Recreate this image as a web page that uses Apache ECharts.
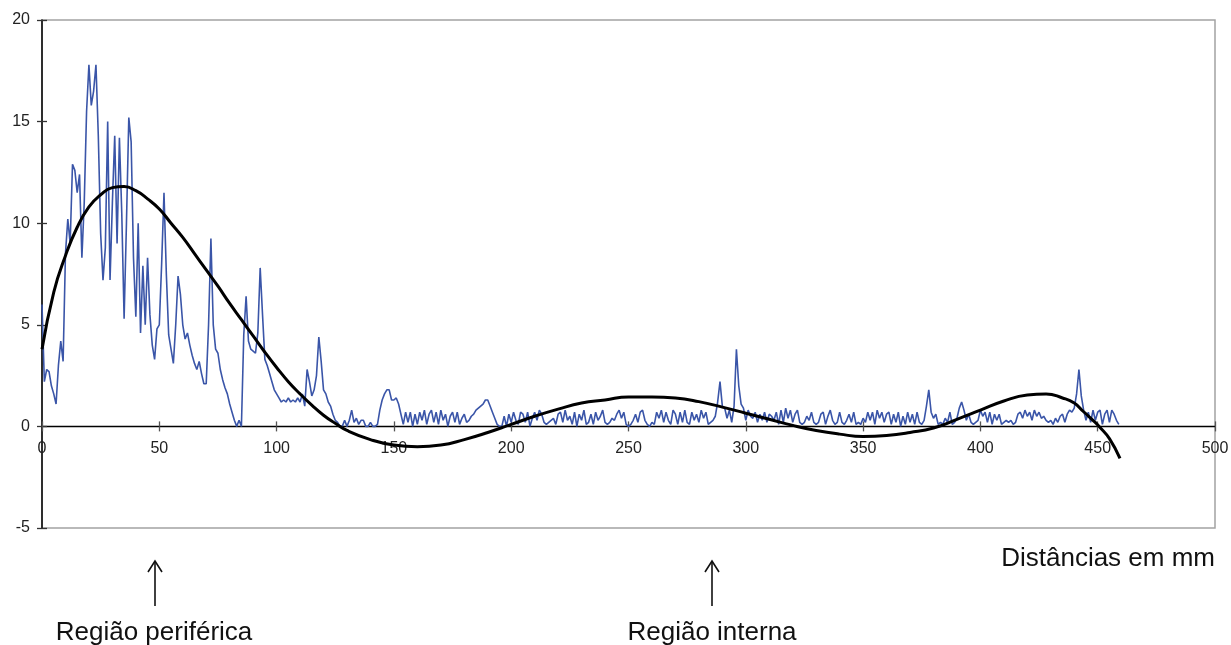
<!DOCTYPE html>
<html>
<head>
<meta charset="utf-8">
<script src="https://cdn.jsdelivr.net/npm/echarts@6/dist/echarts.min.js"></script>
<style>
  html, body { margin: 0; padding: 0; background: #fff; }
  #chart { width: 1231px; height: 645px; }
</style>
</head>
<body>
<div id="chart"></div>
<script>
// sinal medido, um valor por mm (x = 0, 1, 2 ...)
const sinal = [
  6.0, 2.2, 2.8, 2.7, 2.0, 1.6, 1.1, 3.0, 4.2, 3.2,
  8.5, 10.2, 9.0, 12.9, 12.6, 11.5, 12.4, 8.3, 11.0, 15.5,
  17.8, 15.8, 16.5, 17.8, 14.3, 9.5, 7.2, 8.8, 15.0, 7.2,
  11.0, 14.3, 9.0, 14.2, 10.5, 5.3, 10.0, 15.2, 14.0, 8.3,
  5.4, 10.0, 4.6, 7.9, 5.0, 8.3, 5.5, 4.0, 3.3, 4.8,
  5.0, 8.0, 11.5, 7.5, 4.5, 3.8, 3.1, 5.0, 7.4, 6.5,
  5.0, 4.3, 4.6, 4.0, 3.5, 3.1, 2.8, 3.2, 2.6, 2.1,
  2.1, 5.0, 9.25, 5.0, 3.8, 3.6, 2.8, 2.3, 1.9, 1.6,
  1.1, 0.7, 0.3, 0.0, 0.3, 0.0, 4.5, 6.4, 4.2, 3.8,
  3.7, 3.6, 4.6, 7.8, 5.5, 3.3, 3.0, 2.6, 2.2, 1.8,
  1.6, 1.4, 1.2, 1.3, 1.2, 1.4, 1.2, 1.3, 1.2, 1.4,
  1.2, 1.6, 1.0, 2.8, 2.2, 1.5, 1.8, 2.5, 4.4, 3.2,
  1.8, 1.6, 1.2, 1.0, 0.6, 0.3, 0.2, 0.0, 0.0, 0.3,
  0.0, 0.3, 0.8, 0.2, 0.4, 0.1, 0.3, 0.3, 0.0, 0.0,
  0.2, 0.0, 0.0, 0.1, 0.8, 1.3, 1.6, 1.8, 1.8, 1.3,
  1.3, 1.4, 1.1, 0.6, 0.1, 0.7, 0.2, 0.7, 0.0, 0.6,
  0.1, 0.7, 0.3, 0.8, 0.1, 0.6, 0.8, 0.2, 0.7, 0.1,
  0.8, 0.3, 0.6, 0.0, 0.5, 0.7, 0.2, 0.7, 0.1, 0.4,
  0.6, 0.2, 0.3, 0.5, 0.6, 0.8, 0.9, 1.0, 1.1, 1.3,
  1.3, 1.0, 0.7, 0.4, 0.1, 0.0, 0.0, 0.5, 0.0, 0.6,
  0.2, 0.7, 0.3, 0.1, 0.7, 0.6, 0.2, 0.7, 0.0, 0.4,
  0.7, 0.3, 0.8, 0.6, 0.2, 0.1, 0.2, 0.3, 0.4, 0.1,
  0.6, 0.7, 0.2, 0.8, 0.3, 0.5, 0.1, 0.7, 0.0, 0.6,
  0.3, 0.8, 0.1, 0.2, 0.6, 0.1, 0.7, 0.3, 0.5, 0.8,
  0.2, 0.1, 0.2, 0.4, 0.3, 0.6, 0.8, 0.4, 0.7, 0.1,
  0.0, 0.1, 0.3, 0.6, 0.2, 0.7, 0.8, 0.3, 0.1, 0.0,
  0.2, 0.1, 0.7, 0.4, 0.8, 0.2, 0.7, 0.3, 0.1, 0.8,
  0.6, 0.1, 0.7, 0.2, 0.8, 0.2, 0.1, 0.7, 0.3, 0.6,
  0.2, 0.8, 0.4, 0.7, 0.1, 0.2, 0.3, 0.5, 1.2, 2.2,
  1.0, 0.9, 0.4, 0.8, 0.2, 1.0, 3.8, 2.0, 1.1, 0.9,
  0.3, 0.8, 0.5, 0.4, 0.7, 0.2, 0.6, 0.3, 0.7, 0.2,
  0.6, 0.5, 0.3, 0.7, 0.1, 0.8, 0.2, 0.9, 0.4, 0.8,
  0.2, 0.6, 0.8, 0.2, 0.1, 0.2, 0.5, 0.3, 0.7, 0.2,
  0.1, 0.2, 0.6, 0.7, 0.1, 0.5, 0.8, 0.3, 0.1, 0.2,
  0.7, 0.2, 0.1, 0.3, 0.6, 0.2, 0.7, 0.1, 0.2, 0.1,
  0.4, 0.2, 0.7, 0.3, 0.7, 0.1, 0.8, 0.4, 0.7, 0.2,
  0.6, 0.7, 0.1, 0.6, 0.2, 0.7, 0.0, 0.5, 0.1, 0.7,
  0.2, 0.6, 0.1, 0.7, 0.2, 0.1, 0.3, 1.0, 1.8, 0.7,
  0.4, 0.6, 0.1, 0.2, 0.1, 0.4, 0.2, 0.7, 0.1, 0.2,
  0.4, 0.9, 1.2, 0.8, 0.3, 0.6, 0.2, 0.1, 0.2, 0.3,
  0.8, 0.5, 0.7, 0.2, 0.7, 0.1, 0.6, 0.3, 0.6, 0.1,
  0.2, 0.3, 0.2, 0.3, 0.1, 0.2, 0.6, 0.7, 0.4, 0.8,
  0.5, 0.7, 0.3, 0.8, 0.5, 0.7, 0.4, 0.5, 0.3, 0.2,
  0.3, 0.1, 0.4, 0.2, 0.5, 0.6, 0.2, 0.6, 0.8, 0.7,
  0.9, 1.6, 2.8, 1.5, 0.8, 0.3, 0.7, 0.2, 0.8, 0.3,
  0.7, 0.8, 0.1, 0.6, 0.8, 0.2, 0.8, 0.6, 0.3, 0.1
];

// linha de tendência (polinomial)
const tendX = [0, 5, 10, 15, 20, 25, 30, 35, 40, 45, 50, 55, 60, 65, 70, 75, 80, 85, 90, 95,
  100, 105, 110, 115, 120, 125, 130, 140, 150, 160, 170, 180, 190, 200, 210, 220, 230, 240,
  250, 260, 270, 280, 290, 300, 310, 320, 330, 340, 350, 360, 370, 380, 390, 400, 410, 420,
  428, 435, 440, 444, 448, 451, 455, 459.5];
const tendY = [3.8, 6.6, 8.4, 9.8, 10.8, 11.4, 11.75, 11.8, 11.6, 11.2, 10.7, 10.0, 9.3, 8.5, 7.7, 6.9, 6.05, 5.25, 4.45, 3.65,
  2.9, 2.2, 1.6, 1.05, 0.55, 0.15, -0.2, -0.65, -0.92, -1.0, -0.92, -0.65, -0.3, 0.1, 0.5, 0.85, 1.15, 1.3,
  1.45, 1.45, 1.4, 1.22, 0.95, 0.65, 0.35, 0.05, -0.2, -0.38, -0.5, -0.45, -0.3, -0.08, 0.35, 0.8, 1.25, 1.55,
  1.6, 1.4, 1.15, 0.72, 0.3, -0.05, -0.6, -1.57];

const xMin = 0, xMax = 500, xStep = 50;
const yMin = -5, yMax = 20, yStep = 5;

const fonte = '"Liberation Sans", Arial, sans-serif';

function montarGrafico() {
    let dadosSinal = sinal.map((v, i) => [i, v]);
    let dadosTend = tendX.map((x, i) => [x, tendY[i]]);

    // altura da área de plotagem e deslocamento do eixo x até y = 0 (com rótulos)
    let gridTop = 20, gridBottom = 117;
    let alturaGrid = 645 - gridTop - gridBottom;
    let deslocZero = -alturaGrid * (0 - yMin) / (yMax - yMin);

    let eixoX = {
        type: 'value', min: xMin, max: xMax, interval: xStep,
        position: 'bottom', offset: deslocZero,
        splitLine: { show: false }
    };
    let eixoY = {
        type: 'value', min: yMin, max: yMax, interval: yStep,
        position: 'left',
        splitLine: { show: false }
    };

    let seta = (cx) => ({
        type: 'group',
        children: [
            { type: 'line', shape: { x1: cx, y1: 606, x2: cx, y2: 561 }, style: { stroke: '#111', lineWidth: 1.6 } },
            { type: 'polyline', shape: { points: [[cx - 7, 572], [cx, 561], [cx + 7, 572]] }, style: { stroke: '#111', lineWidth: 1.6, fill: null } }
        ]
    });

    let option = {
        animation: false,
        grid: {
            left: 42, right: 16, top: gridTop, bottom: gridBottom,
            show: true, borderColor: '#a3a3a3', borderWidth: 1.5,
            outerBoundsMode: 'none'
        },
        xAxis: [
            Object.assign({}, eixoX, {
                axisLine: { onZero: false, lineStyle: { color: '#000', width: 1.3 } },
                axisTick: { inside: false, length: 5, lineStyle: { color: '#555', width: 1.3 } },
                axisLabel: { margin: 14, fontSize: 16, color: '#222', fontFamily: fonte }
            }),
            Object.assign({}, eixoX, {
                axisLine: { show: false, onZero: false },
                axisTick: { inside: true, length: 5, lineStyle: { color: '#555', width: 1.3 } },
                axisLabel: { show: false }
            })
        ],
        yAxis: [
            Object.assign({}, eixoY, {
                axisLine: { onZero: false, lineStyle: { color: '#000', width: 1.5 } },
                axisTick: { inside: false, length: 5, lineStyle: { color: '#333', width: 1.3 } },
                axisLabel: { margin: 12, fontSize: 16, color: '#222', fontFamily: fonte }
            }),
            Object.assign({}, eixoY, {
                axisLine: { show: false, onZero: false },
                axisTick: { inside: true, length: 5, lineStyle: { color: '#333', width: 1.3 } },
                axisLabel: { show: false }
            })
        ],
        series: [
            {
                name: 'sinal', type: 'line', xAxisIndex: 0, yAxisIndex: 0,
                data: dadosSinal, showSymbol: false,
                lineStyle: { color: '#3a55a8', width: 1.6 },
                z: 2
            },
            {
                name: 'tendência', type: 'line', xAxisIndex: 0, yAxisIndex: 0,
                data: dadosTend, showSymbol: false, smooth: true,
                lineStyle: { color: '#000', width: 3 },
                z: 3
            }
        ],
        graphic: [
            { type: 'text', x: 1215, y: 559, style: { text: 'Distâncias em mm', font: '26px ' + fonte, fill: '#111', textAlign: 'right', textVerticalAlign: 'middle' } },
            seta(155),
            seta(712),
            { type: 'text', x: 154, y: 633, style: { text: 'Região periférica', font: '26px ' + fonte, fill: '#111', textAlign: 'center', textVerticalAlign: 'middle' } },
            { type: 'text', x: 712, y: 633, style: { text: 'Região interna', font: '26px ' + fonte, fill: '#111', textAlign: 'center', textVerticalAlign: 'middle' } }
        ]
    };

    let myChart = echarts.init(document.querySelector('#chart'));
    myChart.setOption(option);
}

montarGrafico();
</script>
</body>
</html>
